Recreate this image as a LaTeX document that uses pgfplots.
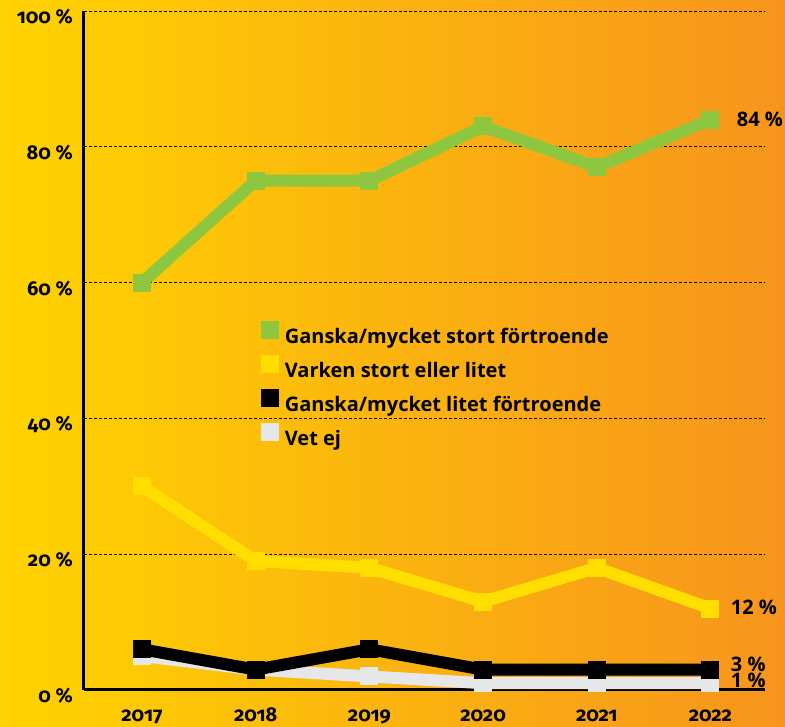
\documentclass[border=0pt]{standalone}
\usepackage{pgfplots}
\pgfplotsset{compat=1.18}
\usetikzlibrary{backgrounds}
\usepackage{fontspec}
\setmainfont{Open Sans}
\newfontfamily\tickfont[Numbers=OldStyle]{Fira Sans}

\definecolor{bgyellow}{HTML}{FFD400}
\definecolor{bgorange}{HTML}{F7941D}
\definecolor{cgreen}{HTML}{8DC63F}
\definecolor{cyellow}{HTML}{FFDE00}
\definecolor{cgrey}{HTML}{E6E7E8}

\begin{document}
\begin{tikzpicture}
\begin{axis}[name=ax, at={(0,0)}, anchor=south west,
  scale only axis, width=681pt, height=679pt,
  xmin=2016.49, xmax=2022.48, ymin=0, ymax=100,
  axis x line*=bottom, axis y line*=left,
  axis line style={line width=3pt, -},
  xtick={2017,2018,2019,2020,2021,2022},
  ytick={0,20,40,60,80,100},
  major tick length=0pt,
  /pgf/number format/assume math mode=true,
  /pgf/number format/1000 sep={},
  yticklabel={\pgfmathprintnumber{\tick} \%},
  xticklabel style={font=\tickfont\bfseries\fontsize{20}{24}\selectfont,
    anchor=base, inner sep=0pt, yshift=-32pt},
  yticklabel style={font=\tickfont\bfseries\fontsize{20}{24}\selectfont,
    anchor=base east, inner sep=0pt, xshift=-11pt, yshift=-12.5pt},
  ymajorgrids,
  grid style={black, line width=0.8pt, dash pattern=on 3pt off 2pt},
  clip=false,
  reverse legend,
  legend cell align=left,
  legend style={draw=none, fill=none, at={(0.255,0.547)}, anchor=north west,
    font=\bfseries\fontsize{20}{24}\selectfont,
    nodes={inner sep=0pt, text height=15pt, text depth=4pt},
    row sep=7.5pt,
    /tikz/every odd column/.style={column sep=6pt}},
  legend image code/.code={\fill[#1, draw=none, line width=0pt] (0pt,-1pt) rectangle (18pt,17pt);},
  every axis plot/.append style={line width=12pt, mark=square*, mark size=8.5pt,
    mark options={draw=none, line width=0pt}},
]
% Vet ej
\addplot[color=cgrey] coordinates {
(2017,5) (2018,3) (2019,2) (2020,1) (2021,1) (2022,1)
};
% Ganska/mycket litet
\addplot[color=black] coordinates {
(2017,6) (2018,3) (2019,6) (2020,3) (2021,3) (2022,3)
};
% Varken stort eller litet
\addplot[color=cyellow] coordinates {
(2017,30) (2018,19) (2019,18) (2020,13) (2021,18) (2022,12)
};
% Ganska/mycket stort
\addplot[color=cgreen] coordinates {
(2017,60) (2018,75) (2019,75) (2020,83) (2021,77) (2022,84)
};
\legend{Vet ej, Ganska/mycket litet förtroende, Varken stort eller litet, Ganska/mycket stort förtroende}

\node[anchor=base west, font=\bfseries\fontsize{20}{24}\selectfont] at (axis cs:2022,84) [xshift=23pt, yshift=-7pt] {84 \%};
\node[anchor=base west, font=\bfseries\fontsize{20}{24}\selectfont] at (axis cs:2022,12) [xshift=17pt, yshift=-6pt] {12 \%};
\node[anchor=base west, font=\bfseries\fontsize{20}{24}\selectfont] at (axis cs:2022,3) [xshift=17pt, yshift=-2pt] {3 \%};
\node[anchor=base west, font=\bfseries\fontsize{20}{24}\selectfont] at (axis cs:2022,1) [xshift=17pt, yshift=-4pt] {1 \%};
\end{axis}
\pgfresetboundingbox
\begin{scope}[on background layer]
\fill[left color=bgyellow, right color=bgorange]
  ([xshift=-84pt, yshift=-37pt]ax.south west) rectangle ([xshift=20pt, yshift=11pt]ax.north east);
\end{scope}
\path[use as bounding box]
  ([xshift=-84pt, yshift=-37pt]ax.south west) rectangle ([xshift=20pt, yshift=11pt]ax.north east);
\end{tikzpicture}
\end{document}
